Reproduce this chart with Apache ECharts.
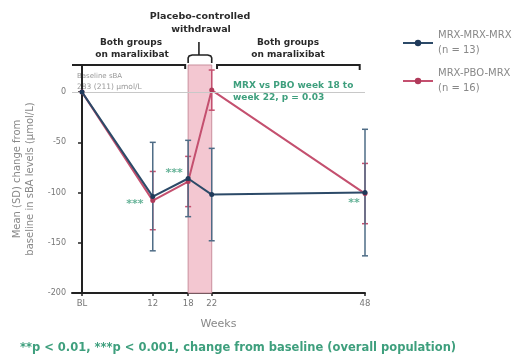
<!DOCTYPE html>
<html>
<head>
<meta charset="utf-8">
<script src="https://cdn.jsdelivr.net/npm/echarts@6/dist/echarts.min.js"></script>
<style>
  html, body { margin: 0; padding: 0; background: #fff; }
  #chart { width: 518px; height: 358px; }
</style>
</head>
<body>
<div id="chart"></div>
<script>
// Study visits (weeks) and their axis labels
const weeks = [0, 12, 18, 22, 48];
const weekLabels = ['BL', '12', '18', '22', '48'];
const yTicks = [0, -50, -100, -150, -200];

// Mean (SD) change from baseline in serum bile acids, µmol/L
const groupNames = ['MRX-MRX-MRX', 'MRX-PBO-MRX'];
const groupN = ['(n = 13)', '(n = 16)'];
const mrxMean = [0, -104, -86, -102, -100];
const mrxSD   = [0, 54, 38, 46, 63];
const pboMean = [0, -108, -89, 2, -101];
const pboSD   = [0, 29, 25, 20, 30];

// Significance markers versus baseline
const starWeeks = [12, 18, 48];
const starText  = ['***', '***', '**'];

const GREEN = '#3e9f7d';
const BLUE = '#2c4a68';
const BLUE_ERR = '#4e6c86';
const PINK = '#c4506f';
const FONT = '"DejaVu Sans", sans-serif';

const chart = echarts.init(document.getElementById('chart'));

function errorBars(name, mean, sd, color, z) {
  const rows = [];
  weeks.forEach((w, i) => {
    if (sd[i] > 0) rows.push([w, mean[i] - sd[i], mean[i] + sd[i]]);
  });
  return {
    type: 'custom',
    name: name,
    z: z,
    silent: true,
    data: rows,
    encode: { x: 0, y: [1, 2] },
    renderItem: function (params, api) {
      const x = api.value(0);
      const lo = api.coord([x, api.value(1)]);
      const hi = api.coord([x, api.value(2)]);
      const w = 3;
      const st = { stroke: color, lineWidth: 1.5 };
      return {
        type: 'group',
        children: [
          { type: 'line', shape: { x1: lo[0], y1: lo[1], x2: hi[0], y2: hi[1] }, style: st },
          { type: 'line', shape: { x1: lo[0] - w, y1: lo[1], x2: lo[0] + w, y2: lo[1] }, style: st },
          { type: 'line', shape: { x1: hi[0] - w, y1: hi[1], x2: hi[0] + w, y2: hi[1] }, style: st }
        ]
      };
    }
  };
}

const starOffsets = [[-18, 8], [-14, -5], [-11, 11]];

chart.setOption({
  animation: false,
  textStyle: { fontFamily: FONT },
  grid: { left: 72, right: 153, top: 65, bottom: 65 },
  legend: {
    data: groupNames,
    orient: 'vertical',
    left: 397,
    top: 23,
    itemGap: 8,
    itemWidth: 30,
    itemHeight: 8,
    formatter: function (name) {
      return name + '\n' + groupN[groupNames.indexOf(name)];
    },
    textStyle: { color: '#888', fontSize: 10, lineHeight: 15, fontFamily: FONT }
  },
  xAxis: {
    type: 'value',
    min: -1.7,
    max: 48,
    name: 'Weeks',
    nameLocation: 'middle',
    nameGap: 26,
    nameTextStyle: { color: '#888', fontSize: 11, fontFamily: FONT },
    axisLine: { show: true, onZero: false, lineStyle: { color: '#222', width: 2 } },
    axisTick: { show: true, customValues: weeks, length: 3, lineStyle: { color: '#222', width: 1.5 } },
    axisLabel: {
      customValues: weeks,
      color: '#777',
      fontSize: 8.5,
      margin: 6,
      formatter: function (v) { return weekLabels[weeks.indexOf(v)]; }
    },
    splitLine: { show: false }
  },
  yAxis: {
    type: 'value',
    min: -200,
    max: 27,
    interval: 50,
    name: 'Mean (SD) change from\nbaseline in sBA levels (µmol/L)',
    nameLocation: 'middle',
    nameRotate: 90,
    nameGap: 31,
    nameTextStyle: { color: '#888', fontSize: 10, lineHeight: 13, fontFamily: FONT },
    axisLine: { show: true, lineStyle: { color: '#222', width: 2 } },
    axisTick: { show: true, customValues: yTicks, length: 4, lineStyle: { color: '#222', width: 1.5 } },
    axisLabel: { customValues: yTicks, color: '#777', fontSize: 8, margin: 6 },
    splitLine: { show: false }
  },
  series: [
    {
      // placebo-controlled withdrawal window and the baseline reference line
      type: 'line',
      name: 'window',
      data: [],
      z: 1,
      markArea: {
        silent: true,
        itemStyle: { color: '#f3c7d1', borderColor: '#c98f9d', borderWidth: 1 },
        data: [[{ xAxis: 18 }, { xAxis: 22 }]]
      },
      markLine: {
        silent: true,
        symbol: 'none',
        label: { show: false },
        lineStyle: { color: '#c8c8c8', type: 'solid', width: 1 },
        data: [{ yAxis: 0 }]
      }
    },
    errorBars('pbo-sd', pboMean, pboSD, PINK, 2),
    errorBars('mrx-sd', mrxMean, mrxSD, BLUE_ERR, 3),
    {
      type: 'line',
      name: groupNames[1],
      z: 4,
      data: weeks.map((w, i) => [w, pboMean[i]]),
      symbol: 'circle',
      symbolSize: 5,
      lineStyle: { color: PINK, width: 2 },
      itemStyle: { color: '#b03a5a' }
    },
    {
      type: 'line',
      name: groupNames[0],
      z: 5,
      data: weeks.map((w, i) => [w, mrxMean[i]]),
      symbol: 'circle',
      symbolSize: 5,
      lineStyle: { color: BLUE, width: 2 },
      itemStyle: { color: '#1f3a5a' }
    },
    {
      type: 'scatter',
      name: 'stars',
      z: 6,
      silent: true,
      symbol: 'circle',
      symbolSize: 1,
      itemStyle: { color: 'rgba(0,0,0,0)' },
      data: starWeeks.map((w, i) => ({
        value: [w, mrxMean[weeks.indexOf(w)]],
        label: { show: true, formatter: starText[i], offset: starOffsets[i] }
      })),
      label: { show: true, position: 'inside', color: GREEN, fontSize: 11, fontWeight: 'bold', fontFamily: FONT }
    }
  ]
});

// Period brackets and annotations above / inside the plot
function px(x, y) { return chart.convertToPixel({ gridIndex: 0 }, [x, y]); }
const yTop = px(0, 27)[1];
const x175 = px(17.5, 0)[0];
const x18 = px(18, 0)[0];
const x22 = px(22, 0)[0];
const x229 = px(22.9, 0)[0];
const x471 = px(47.1, 0)[0];
const yAx = px(-1.7, 0)[0];
const xMid = (x18 + x22) / 2;
const yB = yTop - 10;

const headStyle = { fill: '#2a2a2a', font: 'bold 9px ' + FONT, textAlign: 'center', textVerticalAlign: 'middle' };
const bracketStyle = { stroke: '#222', lineWidth: 2, fill: null };
const braceStyle = { stroke: '#222', lineWidth: 1.6, fill: null };

chart.setOption({
  graphic: [
    { type: 'polyline', shape: { points: [[yAx, yTop], [x175, yTop], [x175, yTop + 4]] }, style: bracketStyle },
    { type: 'polyline', shape: { points: [[x229, yTop + 4], [x229, yTop], [x471, yTop], [x471, yTop + 5]] }, style: bracketStyle },
    // curly brace over the withdrawal window
    { type: 'polyline', shape: { points: [[x18, yTop - 2], [x18, yB + 3], [x18 + 1, yB + 1], [x18 + 4, yB], [x22 - 4, yB], [x22 - 1, yB + 1], [x22, yB + 3], [x22, yTop - 2]] }, style: braceStyle },
    { type: 'line', shape: { x1: xMid - 1, y1: yB, x2: xMid - 1, y2: yB - 13 }, style: braceStyle },
    { type: 'text', x: 131, y: 43, style: Object.assign({ text: 'Both groups' }, headStyle) },
    { type: 'text', x: 132, y: 55, style: Object.assign({ text: 'on maralixibat' }, headStyle) },
    { type: 'text', x: 288, y: 43, style: Object.assign({ text: 'Both groups' }, headStyle) },
    { type: 'text', x: 288, y: 55, style: Object.assign({ text: 'on maralixibat' }, headStyle) },
    { type: 'text', x: 200, y: 17, style: Object.assign({}, headStyle, { text: 'Placebo-controlled', font: 'bold 9.5px ' + FONT }) },
    { type: 'text', x: 201, y: 30, style: Object.assign({}, headStyle, { text: 'withdrawal', font: 'bold 9.5px ' + FONT }) },
    { type: 'text', x: 77, y: 76, style: { text: 'Baseline sBA', fill: '#999', font: '7px ' + FONT, textVerticalAlign: 'middle' } },
    { type: 'text', x: 77, y: 87, style: { text: '283 (211) µmol/L', fill: '#999', font: '7.5px ' + FONT, textVerticalAlign: 'middle' } },
    { type: 'text', x: 233, y: 86, style: { text: 'MRX vs PBO week 18 to', fill: GREEN, font: 'bold 9px ' + FONT, textVerticalAlign: 'middle' } },
    { type: 'text', x: 233, y: 98, style: { text: 'week 22, p = 0.03', fill: GREEN, font: 'bold 9px ' + FONT, textVerticalAlign: 'middle' } },
    { type: 'text', x: 238, y: 348, style: { text: '**p < 0.01, ***p < 0.001, change from baseline (overall population)', fill: GREEN, font: 'bold 11.5px ' + FONT, textAlign: 'center', textVerticalAlign: 'middle' } }
  ]
});
</script>
</body>
</html>
